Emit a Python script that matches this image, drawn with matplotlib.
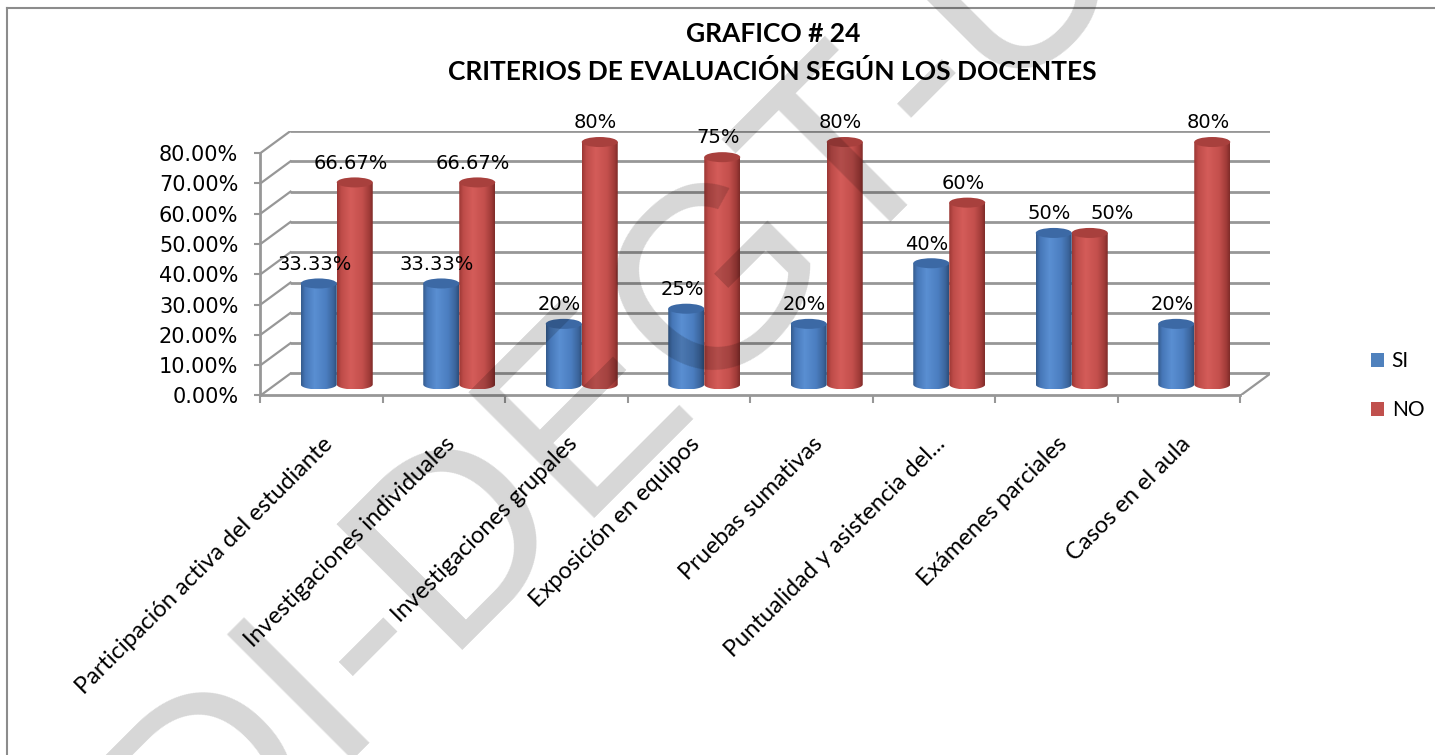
import numpy as np
import matplotlib
matplotlib.use('Agg')
import matplotlib.pyplot as plt
from matplotlib.patches import Ellipse, Polygon, Patch
from matplotlib.lines import Line2D
from matplotlib.colors import LinearSegmentedColormap

## datos
categorias = ['Participación activa del estudiante', 'Investigaciones individuales',
              'Investigaciones grupales', 'Exposición en equipos', 'Pruebas sumativas',
              'Puntualidad y asistencia del...', 'Exámenes parciales', 'Casos en el aula']
si = [33.33, 33.33, 20, 25, 20, 40, 50, 20]
no = [66.67, 66.67, 80, 75, 80, 60, 50, 80]
y_ticks = [0, 10, 20, 30, 40, 50, 60, 70, 80]
series = ['SI', 'NO']

## estilo
fs = 15.
grid_c = '#979797'
c_si = LinearSegmentedColormap.from_list('si', [(0., '#345a8c'), (.12, '#4677b8'), (.38, '#5a8fd2'),
                                               (.7, '#4b7ec0'), (.9, '#3b659c'), (1., '#2d4d7a')])
c_no = LinearSegmentedColormap.from_list('no', [(0., '#9a3633'), (.12, '#be4c49'), (.38, '#d45c59'),
                                               (.7, '#c4504d'), (.9, '#a03b38'), (1., '#7e2b29')])
top_si, top_no = '#3c69a5', '#a8403d'
leg_si, leg_no = '#4f81bd', '#c0504d'

fig = plt.figure(figsize=(14.35, 7.55), dpi=100)
ax = fig.add_axes([0.18153, 0.47616, 0.70383, 0.35033])

# profundidad 3D (pared del fondo) en unidades de datos
px_x, px_y = 122.5, 3.025
DX, DY = 30/px_x, 22/px_y
half_w = 18/px_x
ey = 5/px_y


def cilindro(xc, base, h, cmap, top_c, z):
	t = np.linspace(np.pi, 2*np.pi, 50)
	xs = np.concatenate([[xc-half_w], xc+half_w*np.cos(t), [xc+half_w]])
	ys = np.concatenate([[base+h], base+ey*np.sin(t), [base+h]])
	body = Polygon(np.column_stack([xs, ys]), closed=True, fc='none', ec='none', zorder=z)
	ax.add_patch(body)
	grad = np.linspace(0, 1, 256).reshape(1, -1)
	im = ax.imshow(grad, cmap=cmap, aspect='auto', interpolation='bilinear',
				   extent=[xc-half_w, xc+half_w, base-ey, base+h], zorder=z)
	im.set_clip_path(body)
	ax.add_patch(Ellipse((xc, base+h), 2*half_w, 2*ey, fc=top_c, ec='none', zorder=z+.1))


## pared del fondo y lateral
for v in y_ticks:
	ax.plot([-.5+DX, 7.5+DX], [v+DY, v+DY], color=grid_c, lw=2., zorder=1, solid_capstyle='butt')
	ax.plot([-.5, -.5+DX], [v, v+DY], color=grid_c, lw=1.6, zorder=1)
ax.plot([7.5, 7.5+DX], [0, DY], color=grid_c, lw=1.6, zorder=1)

## cilindros
x = np.arange(len(categorias))
for i in x:
	xc = i + DX*.5
	base = DY*.5
	cilindro(xc-half_w, base, si[i], c_si, top_si, 3+i*.01)
	cilindro(xc+half_w, base, no[i], c_no, top_no, 3.5+i*.01)
	# si las dos etiquetas quedan a la misma altura, la de NO se corre a la derecha
	nudge = 16 if abs(si[i]-no[i]) < 5 else -3
	ax.annotate(f'{si[i]:g}%', (xc-half_w, base+si[i]), xytext=(-3, 7), textcoords='offset points',
				ha='center', va='bottom', fontsize=fs-1, zorder=10)
	ax.annotate(f'{no[i]:g}%', (xc+half_w, base+no[i]), xytext=(nudge, 7), textcoords='offset points',
				ha='center', va='bottom', fontsize=fs-1, zorder=10)

## ejes
ax.set_xlim(-.5, 7.5+DX)
ax.set_ylim(0, 80+DY)
ax.set_facecolor('none')
for s in ['top', 'right']:
	ax.spines[s].set_visible(False)
for s in ['left', 'bottom']:
	ax.spines[s].set_color(grid_c)
	ax.spines[s].set_linewidth(2.)
ax.spines['left'].set_bounds(0, 80)
ax.spines['bottom'].set_bounds(-.5, 7.5)

ax.set_yticks(y_ticks)
ax.set_yticklabels([f'{v:.2f}%' for v in y_ticks])
ax.tick_params(axis='y', length=4, color=grid_c, width=1.5, labelsize=fs, pad=12)

ax.set_xticks(x)
ax.set_xticklabels(categorias, rotation=45, ha='right', rotation_mode='anchor',
				   fontsize=17, family='Lato')
ax.set_xticks(np.arange(-.5, 8, 1), minor=True)
ax.tick_params(axis='x', which='major', length=0, pad=27)
ax.tick_params(axis='x', which='minor', length=6, color=grid_c, width=1.5)

## titulo
fig.text(.5385, .955, 'GRAFICO # 24', ha='center', va='center', fontsize=19,
		 family='Lato', weight='bold')
fig.text(.5385, .905, 'CRITERIOS DE EVALUACIÓN SEGÚN LOS DOCENTES', ha='center', va='center',
		 fontsize=19, family='Lato', weight='bold')

## leyenda
fig.legend(handles=[Patch(fc=leg_si, label=series[0]), Patch(fc=leg_no, label=series[1])],
		   loc='center left', bbox_to_anchor=(.948, .4894), frameon=False,
		   handlelength=.65, handleheight=.65, handletextpad=.35, labelspacing=1.4,
		   borderpad=0, prop={'family': 'Lato', 'size': fs})

## marco
fig.add_artist(Line2D([7/1435, 7/1435], [0, 1-8/755], color='#8c8c8c', lw=1.5))
fig.add_artist(Line2D([7/1435, 1], [1-8/755, 1-8/755], color='#8c8c8c', lw=1.5))

## marca de agua
fig.text(.1387, -.1828, 'DI-DEGT-UG', rotation=45, rotation_mode='anchor', ha='left', va='baseline',
		 fontsize=186, family='Liberation Sans', color='k', alpha=.16, zorder=20)

fig.savefig('out.png', dpi=100)
